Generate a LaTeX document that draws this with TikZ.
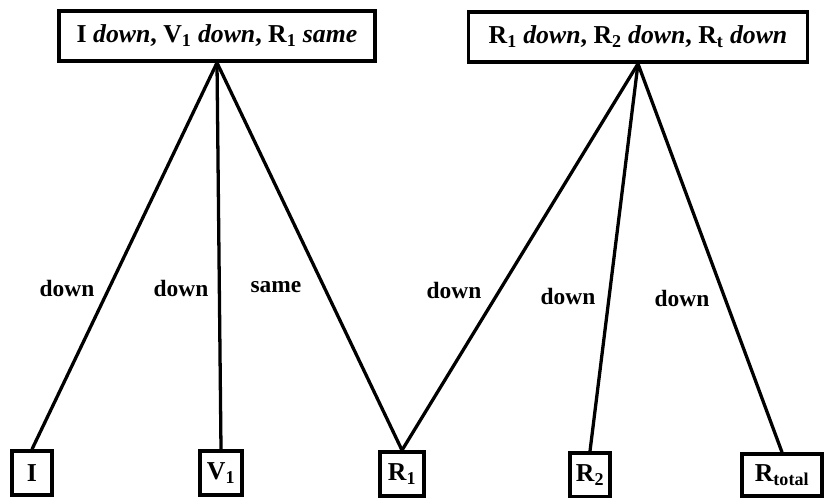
\documentclass[tikz,border=0pt]{standalone}
\usepackage{fontspec}
\setmainfont{Liberation Serif}
\begin{document}
\begin{tikzpicture}[x=0.03cm,y=-0.03cm,
    scatola/.style={draw,line width=3pt,font=\bfseries\fontsize{22}{26}\selectfont,inner sep=0pt},
    foglia/.style={scatola,minimum height=1.32cm},
    ramo/.style={line width=2.8pt},
    etichetta/.style={font=\bfseries\fontsize{20}{24}\selectfont}]

\useasboundingbox (0,0) rectangle (827,498);

% Riquadri in alto
\node[scatola,minimum width=9.48cm,minimum height=1.5cm] (alto1) at (217,36)
    {I \textit{down}, V\textsubscript{1} \textit{down}, R\textsubscript{1} \textit{same}};
\node[scatola,minimum width=10.17cm,minimum height=1.5cm] (alto2) at (638,37)
    {R\textsubscript{1} \textit{down}, R\textsubscript{2} \textit{down}, R\textsubscript{t} \textit{down}};

% Riquadri in basso
\node[foglia,minimum width=1.2cm] (I) at (32,473) {I};
\node[foglia,minimum width=1.26cm] (V1) at (221,473) {V\textsubscript{1}};
\node[foglia,minimum width=1.32cm] (R1) at (402,474) {R\textsubscript{1}};
\node[foglia,minimum width=1.2cm] (R2) at (590,475) {R\textsubscript{2}};
\node[foglia,minimum width=2.4cm,minimum height=1.26cm] (Rt) at (782,475) {R\textsubscript{total}};

% Rami dal primo riquadro
\draw[ramo] (alto1.south) -- (I.north);
\draw[ramo] (alto1.south) -- (V1.north);
\draw[ramo] (alto1.south) -- (R1.north);

% Rami dal secondo riquadro
\draw[ramo] (alto2.south) -- (R1.north);
\draw[ramo] (alto2.south) -- (R2.north);
\draw[ramo] (alto2.south) -- (Rt.north);

% Etichette dei rami
\foreach \nome/\x/\y/\testo in {e1/67/288/down, e2/181/288/down, e3/276/287/same,
                                e4/454/290/down, e5/568/296/down, e6/682/298/down}
    \node[etichetta] (\nome) at (\x,\y) {\testo};

\end{tikzpicture}
\end{document}
